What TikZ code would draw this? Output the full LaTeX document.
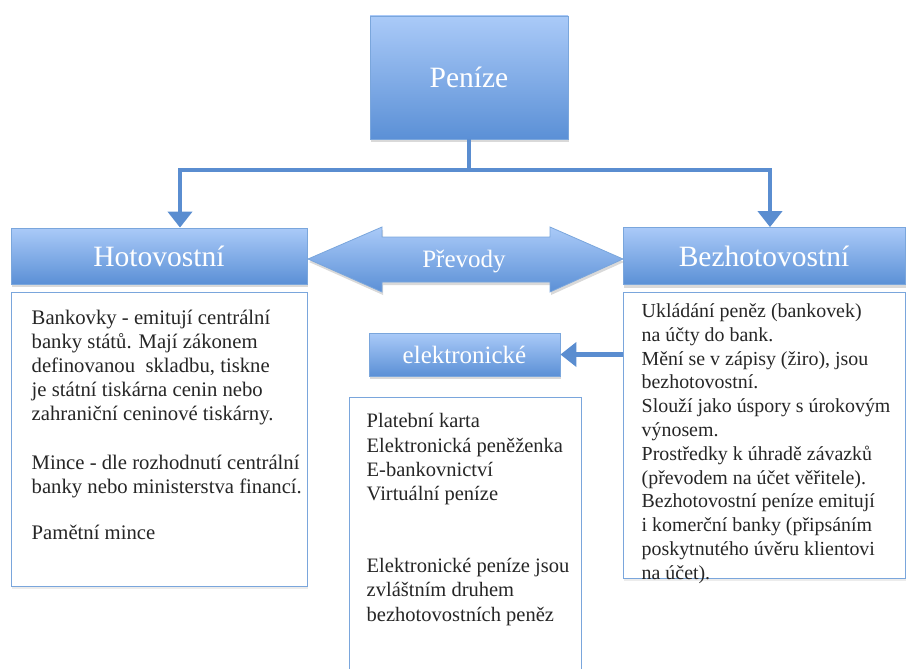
\documentclass[tikz,border=0pt]{standalone}
\usepackage{fontspec}
\setmainfont{Liberation Serif}
\usepackage{tikz}
\usetikzlibrary{arrows.meta}
\usetikzlibrary{shadows}
\usetikzlibrary{calc}

\definecolor{boxtop}{HTML}{AACAF8}
\definecolor{boxbot}{HTML}{5B90D6}
\definecolor{boxline}{HTML}{7AA6DC}
\definecolor{connblue}{HTML}{5A8DD0}

\begin{document}
\begin{tikzpicture}[x=1pt,y=-1pt,inner sep=0pt,
  bluebox/.style={draw=boxline,line width=.8pt,top color=boxtop,bottom color=boxbot,text=white,
    drop shadow={shadow xshift=1pt,shadow yshift=-3pt,opacity=.3}},
  textbox/.style={draw=boxline,line width=1pt,fill=white,
    drop shadow={shadow xshift=1pt,shadow yshift=-3pt,opacity=.15}},
  bigfont/.style={font=\fontsize{29.5}{34}\selectfont},
  midfont/.style={font=\fontsize{25}{30}\selectfont},
  para/.style={anchor=north west,align=left,text=black!85},
  conn/.style={draw=connblue,line width=4.5pt,-{Triangle[width=24pt,length=16pt]}},
  trunk/.style={draw=connblue,line width=4.5pt}]
\useasboundingbox (0,0) rectangle (908,669);
% boxes
\node [bluebox,bigfont,minimum width=198pt,minimum height=123pt] (peni) at (469,77.5) {Peníze};
\node [bluebox,bigfont,minimum width=296pt,minimum height=56pt] (hot) at (159,256) {Hotovostní};
\node [bluebox,bigfont,minimum width=282pt,minimum height=57pt] (bez) at (764,256) {Bezhotovostní};
\node [bluebox,midfont,minimum width=191pt,minimum height=43pt] (elek) at (464.5,354.5) {elektronické};
\node [textbox,minimum width=296pt,minimum height=294pt] (hottext) at (159,439) {};
\node [textbox,minimum width=232pt,minimum height=303pt] (elektext) at (465,548.5) {};
\node [textbox,minimum width=282pt,minimum height=286pt] (beztext) at (764,435) {};
% double arrow between the two kinds
\path [top color=boxtop,bottom color=boxbot,draw=boxline,line width=.8pt,
  drop shadow={shadow xshift=1pt,shadow yshift=-3pt,opacity=.3}]
  (308,259) -- (382,227) -- (382,237) -- (550,237) -- (550,227) -- (623,259)
  -- (550,292) -- (550,282) -- (382,282) -- (382,292) -- cycle;
\node [midfont,text=white] (prev) at (464,261) {Převody};
% connectors
\coordinate (split) at (469,170);
\draw [trunk] (peni.south) -- (split);
\draw [conn] (split) -| ([xshift=21pt]hot.north);
\draw [conn] (split) -| ([xshift=6pt]bez.north);
\draw [conn] (beztext.west |- elek.east) -- (elek.east);
% texts
\node [para,font=\fontsize{20.7}{24.2}\selectfont] (hotpar) at ([xshift=21pt,yshift=-18pt]hottext.north west)
  {Bankovky - emitují centrální\\
   banky států. Mají zákonem\\
   definovanou\ \ skladbu, tiskne\\
   je státní tiskárna cenin nebo\\
   zahraniční ceninové tiskárny.\\[24.2pt]
   Mince - dle rozhodnutí centrální\\
   banky nebo ministerstva financí.\\[22pt]
   Pamětní mince};
\node [para,font=\fontsize{20.5}{24.2}\selectfont] (elekpar) at ([xshift=18pt,yshift=-17pt]elektext.north west)
  {Platební karta\\
   Elektronická peněženka\\
   E-bankovnictví\\
   Virtuální peníze\\[48pt]
   Elektronické peníze jsou\\
   zvláštním druhem\\
   bezhotovostních peněz};
\node [para,font=\fontsize{19.9}{23.8}\selectfont] (bezpar) at ([xshift=19pt,yshift=-12pt]beztext.north west)
  {Ukládání peněz (bankovek)\\
   na účty do bank.\\
   Mění se v zápisy (žiro), jsou\\
   bezhotovostní.\\
   Slouží jako úspory s úrokovým\\
   výnosem.\\
   Prostředky k úhradě závazků\\
   (převodem na účet věřitele).\\
   Bezhotovostní peníze emitují\\
   i komerční banky (připsáním\\
   poskytnutého úvěru klientovi\\
   na účet).};
\end{tikzpicture}
\end{document}
